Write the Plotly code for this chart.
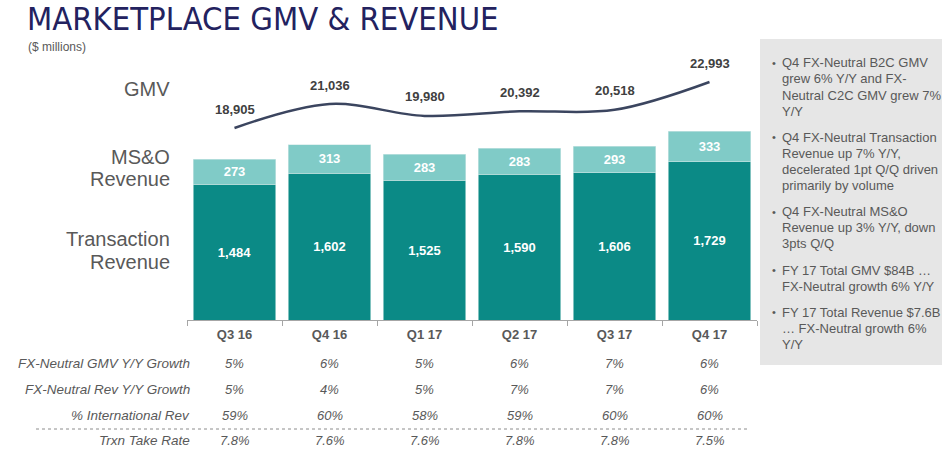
import plotly.graph_objects as go

# ---------------- data ----------------
quarters = ["Q3 16", "Q4 16", "Q1 17", "Q2 17", "Q3 17", "Q4 17"]
transaction_rev = [1484, 1602, 1525, 1590, 1606, 1729]
mso_rev = [273, 313, 283, 283, 293, 333]
gmv = [18905, 21036, 19980, 20392, 20518, 22993]

table_labels = ["FX-Neutral GMV Y/Y Growth", "FX-Neutral Rev Y/Y Growth",
                "% International Rev", "Trxn Take Rate"]
gmv_growth = ["5%", "6%", "5%", "6%", "7%", "6%"]
rev_growth = ["5%", "4%", "5%", "7%", "7%", "6%"]
intl_rev = ["59%", "60%", "58%", "59%", "60%", "60%"]
take_rate = ["7.8%", "7.6%", "7.6%", "7.8%", "7.8%", "7.5%"]
table_rows = [gmv_growth, rev_growth, intl_rev, take_rate]

side_labels = [["GMV"], ["MS&O", "Revenue"], ["Transaction", "Revenue"]]

bullets = [
    ["Q4 FX-Neutral B2C GMV", "grew 6% Y/Y and FX-", "Neutral C2C GMV grew 7%", "Y/Y"],
    ["Q4 FX-Neutral Transaction", "Revenue up 7% Y/Y,", "decelerated 1pt Q/Q driven", "primarily by volume"],
    ["Q4 FX-Neutral MS&O", "Revenue up 3% Y/Y, down", "3pts Q/Q"],
    ["FY 17 Total GMV $84B \u2026", "FX-Neutral growth 6% Y/Y"],
    ["FY 17 Total Revenue $7.6B", "\u2026 FX-Neutral growth 6%", "Y/Y"],
]

title = "MARKETPLACE GMV & REVENUE"
subtitle = "($ millions)"

# ---------------- style ----------------
W, H = 942, 454
L, R, T, B = 187, 757, 60, 320
FONT = "Liberation Sans, Arial, sans-serif"
GRAY = "#595959"
DARK = "#0b8a86"
LIGHT = "#80cbc7"
NAVY = "#23225f"


def px(x):
    return (x - L) / (R - L)


def py(y):
    return (B - y) / (B - T)


fig = go.Figure()
fig.add_trace(go.Bar(
    x=quarters, y=transaction_rev, name="Transaction Revenue",
    marker=dict(color=DARK, line=dict(color="#cfe8e6", width=0.6)),
    text=[f"{v:,}" for v in transaction_rev], textposition="inside",
    insidetextanchor="middle", textangle=0,
    textfont=dict(color="white", size=13, family=FONT, weight="bold"),
    hoverinfo="skip"))
fig.add_trace(go.Bar(
    x=quarters, y=mso_rev, name="MS&O Revenue",
    marker=dict(color=LIGHT, line=dict(color="#cfe8e6", width=0.6)),
    text=[f"{v:,}" for v in mso_rev], textposition="inside",
    insidetextanchor="middle", textangle=0,
    textfont=dict(color="white", size=13, family=FONT, weight="bold"),
    hoverinfo="skip"))
fig.add_trace(go.Scatter(
    x=quarters, y=gmv, yaxis="y2", mode="lines",
    line=dict(color="#3b455f", width=2.5, shape="spline", smoothing=1.0),
    hoverinfo="skip"))

ann = []
# GMV value labels
for q, g in zip(quarters, gmv):
    ann.append(dict(x=q, y=g, xref="x", yref="y2", text=f"{g:,}", showarrow=False,
                    yshift=19, font=dict(size=13, color="#404040", family=FONT, weight="bold")))

# table
row_y = [363, 389, 415, 440]
for lab, vals, yy in zip(table_labels, table_rows, row_y):
    ann.append(dict(x=px(192), y=py(yy), xref="paper", yref="paper", text=lab,
                    showarrow=False, xanchor="right", yanchor="middle",
                    font=dict(size=13.5, color=GRAY, family=FONT, style="italic")))
    for q, v in zip(quarters, vals):
        ann.append(dict(x=q, y=py(yy), xref="x", yref="paper", text=v,
                        showarrow=False, xanchor="center", yanchor="middle",
                        font=dict(size=13, color=GRAY, family=FONT, style="italic")))

# left side labels
side_y = [[89], [157, 179], [239, 262]]
for lines, ys in zip(side_labels, side_y):
    for t, yy in zip(lines, ys):
        ann.append(dict(x=px(172), y=py(yy), xref="paper", yref="paper", text=t,
                        showarrow=False, xanchor="right", yanchor="middle",
                        font=dict(size=20, color=GRAY, family=FONT)))

# title
ann.append(dict(x=px(25), y=py(19), xref="paper", yref="paper", text=title,
                showarrow=False, xanchor="left", yanchor="middle",
                font=dict(size=32.5, color=NAVY,
                          family="Liberation Sans Narrow, Arial Narrow, DejaVu Sans Condensed, sans-serif")))
ann.append(dict(x=px(26), y=py(47), xref="paper", yref="paper", text=subtitle,
                showarrow=False, xanchor="left", yanchor="middle",
                font=dict(size=12, color=GRAY, family=FONT)))

# bullets in side box
bullet_y = [[63, 79, 95, 111], [137, 153, 169, 185], [212, 228, 244], [270, 286], [312, 328, 344]]
for lines, ys in zip(bullets, bullet_y):
    ann.append(dict(x=px(770), y=py(ys[0]), xref="paper", yref="paper", text="\u2022",
                    showarrow=False, xanchor="left", yanchor="middle",
                    font=dict(size=11, color=GRAY, family=FONT)))
    for t, yy in zip(lines, ys):
        ann.append(dict(x=px(780), y=py(yy), xref="paper", yref="paper", text=t,
                        showarrow=False, xanchor="left", yanchor="middle",
                        font=dict(size=13, color=GRAY, family=FONT)))

shapes = [
    dict(type="rect", xref="paper", yref="paper", x0=px(760), x1=px(945),
         y0=py(365), y1=py(39), fillcolor="#e6e6e6", line=dict(width=0), layer="below"),
    dict(type="line", xref="paper", yref="paper", x0=px(36), x1=px(750),
         y0=py(429), y1=py(429), line=dict(color="#8c8c8c", width=1, dash="dot")),
]

fig.update_layout(
    width=W, height=H,
    margin=dict(l=L, r=W - R, t=T, b=H - B),
    barmode="stack", bargap=0.13,
    showlegend=False,
    plot_bgcolor="white", paper_bgcolor="white",
    font=dict(family=FONT, color=GRAY),
    xaxis=dict(showline=True, linecolor="#a6a6a6", linewidth=1, ticks="outside",
               tickson="boundaries", ticklen=5, tickcolor="#a6a6a6", showgrid=False,
               tickfont=dict(size=13, color=GRAY, family=FONT, weight="bold"),
               ticklabelstandoff=2),
    yaxis=dict(range=[0, 2838], visible=False, showgrid=False),
    yaxis2=dict(range=[1838, 24949], overlaying="y", visible=False, showgrid=False),
    uniformtext=dict(minsize=13, mode="show"),
    annotations=ann, shapes=shapes,
)

fig.write_html("out.html", config={"displayModeBar": False},
               post_script="document.body.style.margin='0';document.body.style.overflow='hidden';")
